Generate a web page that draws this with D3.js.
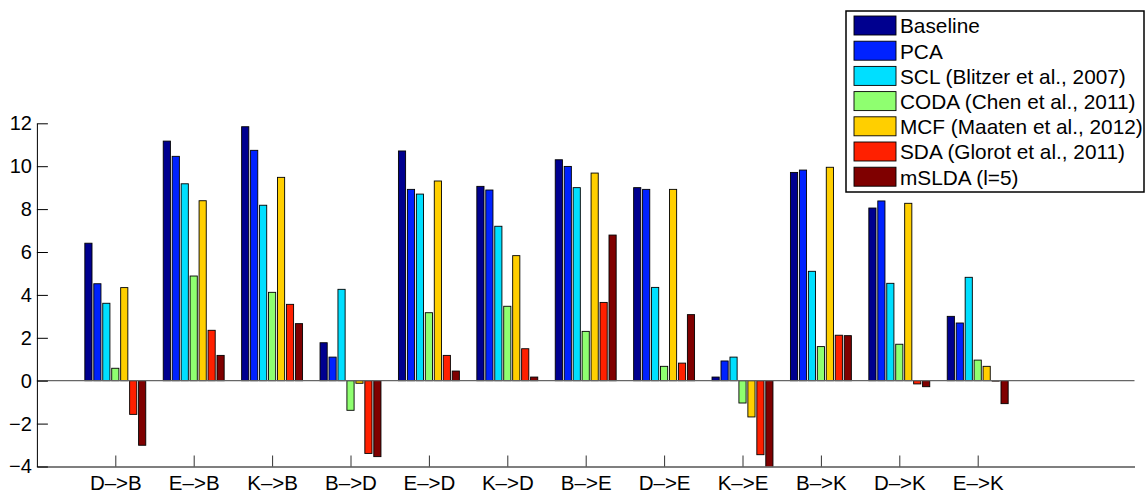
<!DOCTYPE html>
<html>
<head>
<meta charset="utf-8">
<script src="https://cdn.jsdelivr.net/npm/d3@7"></script>
<style>
  html, body { margin: 0; padding: 0; background: #fff; }
  svg { display: block; font-family: "Liberation Sans", Arial, Helvetica, sans-serif; }
</style>
</head>
<body>
<svg id="chart" width="1146" height="493"></svg>
<script>
const categories = ["D–>B", "E–>B", "K–>B", "B–>D", "E–>D", "K–>D", "B–>E", "D–>E", "K–>E", "B–>K", "D–>K", "E–>K"];
const seriesNames = ["Baseline", "PCA", "SCL (Blitzer et al., 2007)", "CODA (Chen et al., 2011)", "MCF (Maaten et al., 2012)", "SDA (Glorot et al., 2011)", "mSLDA (l=5)"];
const seriesColors = ["#00008f", "#0022ff", "#00dfff", "#8fff70", "#ffcf00", "#ff2000", "#7f0000"];
const baseline = [6.41, 11.17, 11.84, 1.77, 10.71, 9.06, 10.30, 9.00, 0.17, 9.71, 8.05, 3.00];
const pca      = [4.52, 10.46, 10.74, 1.10, 8.92, 8.89, 9.99, 8.92, 0.92, 9.82, 8.38, 2.69];
const scl      = [3.61, 9.18, 8.18, 4.26, 8.70, 7.20, 9.00, 4.35, 1.10, 5.10, 4.54, 4.82];
const coda     = [0.58, 4.88, 4.12, -1.38, 3.17, 3.47, 2.30, 0.67, -1.04, 1.59, 1.70, 0.96];
const mcf      = [4.34, 8.39, 9.48, -0.12, 9.31, 5.83, 9.68, 8.92, -1.69, 9.95, 8.27, 0.67];
const sda      = [-1.57, 2.35, 3.56, -3.39, 1.18, 1.49, 3.65, 0.82, -3.45, 2.12, -0.15, -0.02];
const mslda    = [-3.01, 1.18, 2.66, -3.54, 0.45, 0.17, 6.79, 3.08, -4.30, 2.10, -0.28, -1.07];
const yTicks = [-4, -2, 0, 2, 4, 6, 8, 10, 12];

const series = [baseline, pca, scl, coda, mcf, sda, mslda];

const svg = d3.select("#chart");
const mLeft = 36.9, mRight = 1134.5, mTop = 123.3, mBottom = 466.5;

const x = d3.scaleLinear().domain([0, categories.length + 2]).range([mLeft, mRight]);
const y = d3.scaleLinear().domain([-4, 12]).range([mBottom, mTop]);

const nS = series.length;
const groupW = 0.8;
const slot = groupW / nS;
const barW = slot * 0.8;

svg.append("defs").append("clipPath").attr("id", "clip")
  .append("rect").attr("x", mLeft).attr("y", mTop).attr("width", mRight - mLeft).attr("height", mBottom - mTop);

const plot = svg.append("g").attr("clip-path", "url(#clip)");

series.forEach((vals, k) => {
  plot.selectAll(null).data(vals).enter().append("rect")
    .attr("x", (d, i) => x(i + 1 - groupW / 2 + k * slot + (slot - barW) / 2))
    .attr("width", x(barW) - x(0))
    .attr("y", d => y(Math.max(0, d)))
    .attr("height", d => Math.abs(y(d) - y(0)))
    .attr("fill", seriesColors[k])
    .attr("stroke", "#000")
    .attr("stroke-width", 0.9);
});

// zero baseline
svg.append("line")
  .attr("x1", mLeft).attr("x2", mRight)
  .attr("y1", y(0)).attr("y2", y(0))
  .attr("stroke", "#666").attr("stroke-width", 1.3);

// x axis
const xAxis = d3.axisBottom(x)
  .tickValues(d3.range(1, categories.length + 1))
  .tickFormat(i => categories[i - 1])
  .tickSizeInner(-11).tickSizeOuter(0).tickPadding(9);
const gx = svg.append("g").attr("transform", `translate(0,${mBottom})`).call(xAxis);
gx.select(".domain").attr("stroke", "#555").attr("stroke-width", 1.3);
gx.selectAll(".tick line").attr("stroke", "#333");
gx.selectAll("text").attr("font-size", 20.5).attr("fill", "#000").attr("font-family", "Liberation Sans, Arial, sans-serif");

// y axis
const yAxis = d3.axisLeft(y).tickValues(yTicks)
  .tickSizeInner(-11).tickSizeOuter(0).tickPadding(5);
const gy = svg.append("g").attr("transform", `translate(${mLeft},0)`).call(yAxis);
gy.select(".domain").attr("stroke", "#000").attr("stroke-width", 1);
gy.selectAll(".tick line").attr("stroke", "#000");
gy.selectAll("text").attr("font-size", 20).attr("fill", "#000").attr("font-family", "Liberation Sans, Arial, sans-serif");

// legend
const lg = svg.append("g");
lg.append("rect").attr("x", 846).attr("y", 11).attr("width", 298).attr("height", 181)
  .attr("fill", "#fff").attr("stroke", "#000").attr("stroke-width", 1.5);
seriesNames.forEach((name, k) => {
  const yy = 16 + k * 25.2;
  lg.append("rect").attr("x", 854).attr("y", yy).attr("width", 42).attr("height", 19)
    .attr("fill", seriesColors[k]).attr("stroke", "#000").attr("stroke-width", 0.9);
  lg.append("text").attr("x", 900).attr("y", yy + 17.3)
    .attr("font-size", 20.8).attr("fill", "#000").text(name);
});
</script>
</body>
</html>
